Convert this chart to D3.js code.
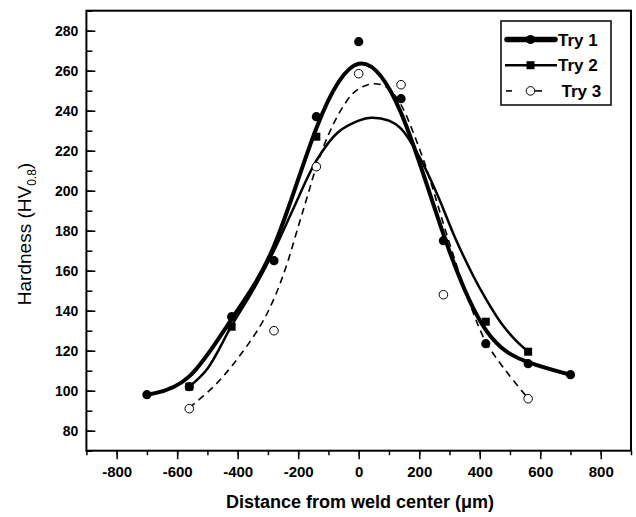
<!DOCTYPE html>
<html>
<head>
<meta charset="utf-8">
<script src="https://cdn.jsdelivr.net/npm/d3@7"></script>
<style>
  body { margin: 0; background: #fff; }
  svg text { font-family: Arial, "Liberation Sans", sans-serif; fill: #000; }
</style>
</head>
<body>
<div id="chart"></div>
<script>
// chart size
const width = 636, height = 517;
const plotLeft = 86.4, plotRight = 631, plotTop = 10.7, plotBottom = 450.7;

const distances1 = [-700, -560, -420, -280, -140, 0, 140, 280, 420, 560, 700];
const hardness1 = [98, 102, 137, 165, 237, 274.5, 246, 175, 123.5, 113.5, 108];
const distances2 = [-560, -420, -140, 420, 560];
const hardness2 = [102, 132, 227, 134.5, 119.5];
const distances3 = [-560, -280, -140, 0, 140, 280, 560];
const hardness3 = [91, 130, 212, 258.5, 253, 148, 96];
const seriesNames = ["Try 1", "Try 2", "Try 3"];

// smoothed curves of Try 2 and Try 3
const fit2Distances = [-560, -500, -420, -350, -280, -210, -140, -70, 0, 41, 100, 140, 200, 260, 320, 380, 420, 470, 520, 560];
const fit2Hardness = [102, 111, 132.5, 150, 170, 193, 215, 229, 235, 236.5, 235, 231, 217, 198, 176, 157, 146, 134, 125, 119.5];
const fit3Distances = [-560, -480, -416, -327, -280, -240, -196, -168, -140, -100, -60, -20, 13, 52, 90, 123, 150, 178, 222, 255, 288, 332, 376, 420, 486, 558];
const fit3Hardness = [91.5, 102, 113, 132, 146, 162, 184, 198, 212, 228, 240, 248.5, 252, 253.5, 252, 247, 240, 230, 212, 196, 179.5, 159, 140, 124.5, 110, 96.5];

const xTicks = [-800, -600, -400, -200, 0, 200, 400, 600, 800];
const xMinorTicks = d3.range(-900, 901, 100);
const yTicks = [80, 100, 120, 140, 160, 180, 200, 220, 240, 260, 280];
const yMinorTicks = d3.range(70, 291, 10);

let svg = d3.select('#chart').append('svg')
  .attr('width', width)
  .attr('height', height);

let xScale = d3.scaleLinear().domain([-900, 900]).range([plotLeft, plotRight]);
let yScale = d3.scaleLinear().domain([70, 290]).range([plotBottom, plotTop]);

// y axis: ticks point inward
svg.append('g')
  .attr('transform', `translate(${plotLeft},0)`)
  .call(d3.axisLeft(yScale).tickValues(yMinorTicks).tickSize(-6).tickFormat(''))
  .call(g => g.select('.domain').remove())
  .call(g => g.selectAll('line').attr('stroke-width', 1.5));

svg.append('g')
  .attr('transform', `translate(${plotLeft},0)`)
  .call(d3.axisLeft(yScale).tickValues(yTicks).tickSize(-9).tickPadding(8))
  .call(g => g.select('.domain').remove())
  .call(g => g.selectAll('line').attr('stroke-width', 1.5))
  .call(g => g.selectAll('text')
    .style('font-size', '14px').style('font-weight', 'bold').attr('fill', '#000'));

// x axis: ticks point outward
svg.append('g')
  .attr('transform', `translate(0,${plotBottom})`)
  .call(d3.axisBottom(xScale).tickValues(xMinorTicks).tickSize(4.5).tickFormat(''))
  .call(g => g.select('.domain').remove())
  .call(g => g.selectAll('line').attr('stroke-width', 1.5));

svg.append('g')
  .attr('transform', `translate(0,${plotBottom})`)
  .call(d3.axisBottom(xScale).tickValues(xTicks).tickSize(8.5).tickPadding(7.5)
    .tickFormat(d => String(d)))
  .call(g => g.select('.domain').remove())
  .call(g => g.selectAll('line').attr('stroke-width', 1.5))
  .call(g => g.selectAll('text')
    .style('font-size', '15px').style('font-weight', 'bold').attr('fill', '#000'));

// frame
svg.append('rect')
  .attr('x', plotLeft).attr('y', plotTop)
  .attr('width', plotRight - plotLeft).attr('height', plotBottom - plotTop)
  .attr('fill', 'none').attr('stroke', '#000').attr('stroke-width', 2);

// titles
svg.append('text')
  .attr('x', 360)
  .attr('y', 508)
  .attr('text-anchor', 'middle')
  .style('font-size', '18px').style('font-weight', 'bold')
  .text('Distance from weld center (\u03bcm)');

let yTitle = svg.append('text')
  .attr('transform', 'translate(31,234) rotate(-90)')
  .attr('text-anchor', 'middle')
  .style('font-size', '19px');
yTitle.append('tspan').text('Hardness (HV');
yTitle.append('tspan').attr('dy', 5).style('font-size', '12px').text('0.8');
yTitle.append('tspan').attr('dy', -5).text(')');

// curves
let basisLine = d3.line()
  .x(d => xScale(d[0]))
  .y(d => yScale(d[1]))
  .curve(d3.curveBasis);
let tracedLine = d3.line()
  .x(d => xScale(d[0]))
  .y(d => yScale(d[1]))
  .curve(d3.curveCatmullRom.alpha(0.5));

const styles = [
  {width: 4, dash: null},
  {width: 2.5, dash: null},
  {width: 1.6, dash: '7,5'}
];
const seriesData = [
  d3.zip(distances1, hardness1),
  d3.zip(distances2, hardness2),
  d3.zip(distances3, hardness3)
];
const curveData = [
  basisLine(seriesData[0]),
  tracedLine(d3.zip(fit2Distances, fit2Hardness)),
  tracedLine(d3.zip(fit3Distances, fit3Hardness))
];

curveData.forEach((d, i) => {
  svg.append('path')
    .attr('d', d)
    .attr('fill', 'none')
    .attr('stroke', '#000')
    .attr('stroke-width', styles[i].width)
    .attr('stroke-dasharray', styles[i].dash);
});

// markers
function drawMarker(g, i, cx, cy) {
  if (i === 0) {
    g.append('circle').attr('cx', cx).attr('cy', cy).attr('r', 4.6).attr('fill', '#000');
  } else if (i === 1) {
    g.append('rect').attr('x', cx - 4).attr('y', cy - 4).attr('width', 8).attr('height', 8).attr('fill', '#000');
  } else {
    g.append('circle').attr('cx', cx).attr('cy', cy).attr('r', 4.3)
      .attr('fill', '#fff').attr('stroke', '#000').attr('stroke-width', 1);
  }
}

let markers = svg.append('g');
[0, 1, 2].forEach(i => {
  seriesData[i].forEach(d => drawMarker(markers, i, xScale(d[0]), yScale(d[1])));
});

// legend
let legend = svg.append('g');
legend.append('rect')
  .attr('x', 501).attr('y', 21)
  .attr('width', 110).attr('height', 84)
  .attr('fill', '#fff').attr('stroke', '#000').attr('stroke-width', 1.5);

seriesNames.forEach((name, i) => {
  let ly = 39.5 + i * 25.7;
  if (i === 2) {
    // short dash, marker, short dash
    [[506, 512], [535, 542]].forEach(seg => {
      legend.append('line')
        .attr('x1', seg[0]).attr('x2', seg[1]).attr('y1', ly).attr('y2', ly)
        .attr('stroke', '#000').attr('stroke-width', styles[i].width);
    });
  } else {
    legend.append('line')
      .attr('x1', i === 0 ? 507 : 505).attr('x2', i === 0 ? 555 : 557)
      .attr('y1', ly).attr('y2', ly)
      .attr('stroke', '#000')
      .attr('stroke-width', i === 0 ? 5.5 : styles[i].width)
      .attr('stroke-linecap', i === 0 ? 'round' : 'butt');
  }
  drawMarker(legend, i, 530.5, ly);
  legend.append('text')
    .attr('x', i === 2 ? 561.5 : 558).attr('y', ly + 6)
    .style('font-size', '17px').style('font-weight', 'bold')
    .text(name);
});
</script>
</body>
</html>
